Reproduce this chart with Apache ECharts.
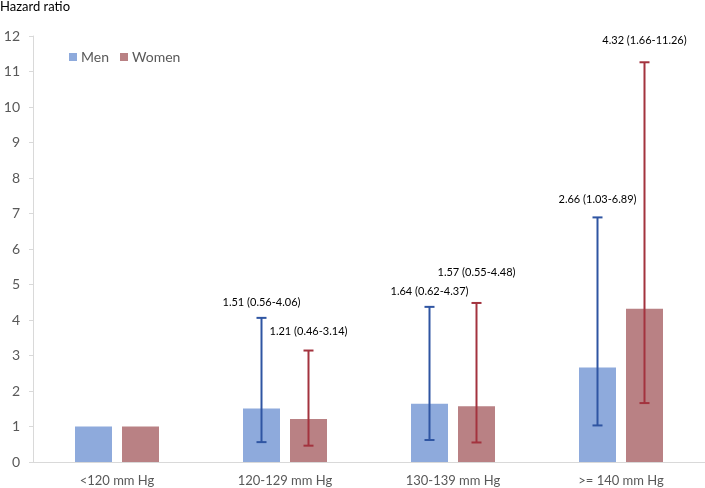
<!DOCTYPE html>
<html>
<head>
<meta charset="utf-8">
<script src="https://cdn.jsdelivr.net/npm/echarts@6/dist/echarts.min.js"></script>
<style>html,body{margin:0;padding:0;background:#fff}#c{width:705px;height:488px}</style>
</head>
<body>
<div id="c"></div>
<script>
var categories = ['<120 mm Hg', '120-129 mm Hg', '130-139 mm Hg', '>= 140 mm Hg'];
var menHR = [1, 1.51, 1.64, 2.66];
var menLow = [null, 0.56, 0.62, 1.03];
var menHigh = [null, 4.06, 4.37, 6.89];
var womenHR = [1, 1.21, 1.57, 4.32];
var womenLow = [null, 0.46, 0.55, 1.66];
var womenHigh = [null, 3.14, 4.48, 11.26];
var yTicks = [0, 1, 2, 3, 4, 5, 6, 7, 8, 9, 10, 11, 12];

// style-only: pixel gap between cap and label text
var menLabelGap = [0, 10, 10, 12];
var womenLabelGap = [0, 14, 25, 16];

var BAR_W = 37, BAR_GAP = 10;
var FONT = 'Lato, "Open Sans", sans-serif';

function errSeries(name, low, high, hr, gaps, side, color) {
  var data = categories.map(function (c, i) { return [i, low[i], high[i], hr[i]]; });
  return {
    type: 'custom',
    name: name + ' CI',
    z: 10,
    data: data,
    encode: { x: 0, y: [1, 2] },
    renderItem: function (params, api) {
      var i = api.value(0);
      var lo = api.value(1), hi = api.value(2), v = api.value(3);
      if (lo == null || isNaN(lo)) return null;
      var pLo = api.coord([i, lo]);
      var pHi = api.coord([i, hi]);
      var x = pLo[0] + side * (BAR_W + BAR_GAP) / 2;
      var cap = 5;
      var st = { stroke: color, lineWidth: 2 };
      var txt = v.toFixed(2) + ' (' + lo.toFixed(2) + '-' + hi.toFixed(2) + ')';
      return {
        type: 'group',
        children: [
          { type: 'line', shape: { x1: x, y1: pLo[1], x2: x, y2: pHi[1] }, style: st },
          { type: 'line', shape: { x1: x - cap, y1: pLo[1], x2: x + cap, y2: pLo[1] }, style: st },
          { type: 'line', shape: { x1: x - cap, y1: pHi[1], x2: x + cap, y2: pHi[1] }, style: st },
          { type: 'text', x: x, y: pHi[1] - gaps[i], style: { text: txt, textAlign: 'center', textVerticalAlign: 'bottom', fill: '#000', font: '11px ' + FONT } }
        ]
      };
    }
  };
}

var chart = echarts.init(document.getElementById('c'), null, { renderer: 'canvas' });
chart.setOption({
  animation: false,
  backgroundColor: '#fff',
  title: { text: 'Hazard ratio', left: 0, top: 0, padding: 0, textStyle: { fontSize: 13, fontWeight: 'normal', color: '#000', fontFamily: FONT } },
  legend: {
    left: 64, top: 45, itemWidth: 8, itemHeight: 8, itemGap: 11,
    icon: 'rect',
    data: ['Men', 'Women'],
    textStyle: { fontSize: 14, color: '#595959', fontFamily: FONT, padding: [0, 0, 0, -1] }
  },
  grid: { left: 33, right: 0, top: 36, bottom: 26 },
  xAxis: {
    type: 'category', data: categories,
    axisLine: { lineStyle: { color: '#d9d9d9', width: 1 } },
    axisTick: { show: false },
    axisLabel: { color: '#595959', fontSize: 13, fontFamily: FONT, margin: 12 }
  },
  yAxis: {
    type: 'value', min: yTicks[0], max: yTicks[yTicks.length - 1], interval: 1,
    axisLine: { show: true, lineStyle: { color: '#d9d9d9' } },
    axisTick: { show: true, length: 4, lineStyle: { color: '#d9d9d9' } },
    splitLine: { show: false },
    axisLabel: { color: '#595959', fontSize: 14, fontFamily: FONT, margin: 13 }
  },
  series: [
    { name: 'Men', type: 'bar', data: menHR, barWidth: BAR_W, barGap: (BAR_GAP / BAR_W * 100) + '%', itemStyle: { color: '#8eaadc' } },
    { name: 'Women', type: 'bar', data: womenHR, barWidth: BAR_W, itemStyle: { color: '#b98184' } },
    errSeries('Men', menLow, menHigh, menHR, menLabelGap, -1, '#2f55a2'),
    errSeries('Women', womenLow, womenHigh, womenHR, womenLabelGap, 1, '#a3333e')
  ]
});
</script>
</body>
</html>
